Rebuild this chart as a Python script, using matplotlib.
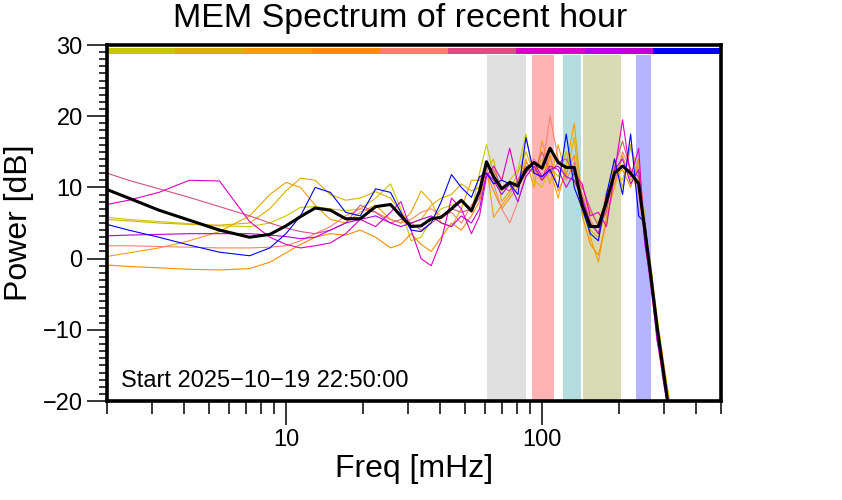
import matplotlib.pyplot as plt
from matplotlib.ticker import FixedLocator, NullFormatter, FixedFormatter

plt.rcParams['font.family'] = ['Liberation Sans', 'DejaVu Sans']

# frequency grid [mHz]
freq = [2.0, 2.43, 3.19, 4.19, 5.50, 7.21, 8.65, 10.0, 11.4, 13.0, 14.9, 17.1,
        19.5, 22.4, 25.6, 28.1, 30.8, 33.7, 36.9, 40.4, 44.3, 48.4, 53.0,
        57.0, 60.7, 64.7, 69.6, 74.8, 80.5, 86.5, 93.0, 100, 107.5, 115.6,
        124.3, 133.6, 143.6, 154.4, 166.0, 178.5, 191.9, 206.3, 221.8, 238.5,
        252.1, 266.2, 281.2, 296.9, 313.5, 325]

# power [dB] of each 10-min segment
p_yellowgreen = [5.8, 5.5, 5.2, 4.9, 4.6, 4.5, 5.0, 6.0, 7.2, 7.3, 7.0, 6.7, 7.0, 8.5, 10.5, 7.0, 2.5, 3.0, 5.5, 7.0, 7.5, 8.0, 6.5,
                 12.0, 16.0, 12.0, 9.5, 11.0, 12.5, 17.5, 11.0, 10.0, 13.0, 11.5, 15.0, 10.5, 9.0, 6.5, 5.0, 8.5, 12.5, 11.0, 15.5, 11.0, 5.0, -1.5, -8.0, -14.5, -19.5, -23]
p_goldenrod = [5.5, 5.3, 5.0, 4.8, 4.7, 5.0, 7.0, 9.5, 11.3, 11.0, 9.0, 8.2, 8.5, 9.4, 8.5, 6.5, 5.0, 5.5, 7.5, 8.5, 9.0, 10.5, 9.5,
               10.0, 12.5, 14.0, 8.0, 9.5, 12.0, 15.0, 12.0, 14.0, 10.5, 16.0, 11.5, 17.0, 6.5, 4.0, 3.0, 7.0, 14.0, 10.0, 16.0, 12.0, 4.5, -1.0, -9.0, -15.0, -20.5, -24]
p_orange = [0.3, 0.8, 1.5, 2.5, 3.8, 6.0, 9.0, 10.7, 10.0, 7.5, 5.5, 5.0, 6.5, 7.5, 5.5, 5.0, 6.5, 9.5, 8.0, 5.0, 4.5, 7.0, 11.0,
            11.0, 13.0, 5.8, 7.5, 9.0, 11.0, 14.0, 10.0, 16.5, 12.5, 8.5, 13.0, 19.0, 8.0, 3.0, -0.5, 6.0, 10.0, 14.5, 11.0, 13.0, 5.5, -2.0, -8.5, -14.0, -20.0, -23]
p_darkorange = [-0.9, -1.1, -1.3, -1.5, -1.6, -1.4, -0.5, 0.8, 2.0, 3.0, 3.5, 3.3, 4.0, 3.0, 1.5, 2.0, 3.5, 2.0, 1.0, 3.0, 5.0, 4.0, 6.0,
                8.0, 12.0, 9.5, 7.0, 8.5, 10.0, 13.5, 12.5, 11.0, 14.5, 9.5, 12.0, 14.5, 6.0, 2.0, 0.5, 5.0, 11.5, 12.5, 10.0, 14.0, 3.5, -3.0, -10.0, -16.0, -22.0, -24]
p_salmon = [1.8, 1.8, 1.7, 1.6, 1.5, 1.5, 1.6, 1.8, 2.5, 3.5, 4.5, 6.0, 7.0, 6.5, 5.5, 5.0, 5.5, 6.5, 7.0, 6.0, 6.5, 5.0, 7.5,
            9.0, 12.5, 10.5, 7.0, 5.0, 8.0, 12.0, 14.0, 12.5, 20.0, 14.0, 11.0, 13.5, 9.0, 5.5, 3.5, 9.5, 10.5, 15.0, 12.5, 9.0, 3.0, -3.5, -9.0, -15.5, -21.0, -24]
p_palevioletred = [12.0, 11.0, 9.8, 8.6, 7.3, 6.0, 5.0, 4.3, 3.8, 3.5, 4.0, 5.0, 7.5, 6.5, 5.0, 5.5, 5.0, 4.0, 5.0, 6.0, 7.0, 6.5, 7.0,
                   8.5, 13.0, 12.5, 10.0, 9.5, 11.0, 13.0, 12.0, 15.0, 12.0, 13.5, 14.0, 12.0, 10.0, 7.0, 4.5, 6.5, 13.0, 16.5, 12.5, 11.5, 4.0, -2.0, -10.0, -16.5, -21.5, -24]
p_magenta = [7.6, 8.2, 9.3, 11.0, 10.9, 5.2, 3.0, 2.0, 1.5, 1.8, 2.2, 3.5, 5.5, 4.5, 6.5, 8.0, 4.0, 0.0, -1.0, 2.5, 8.5, 7.0, 3.5,
             6.0, 11.5, 13.0, 11.0, 15.5, 10.5, 12.0, 13.5, 11.5, 13.0, 12.5, 10.0, 12.0, 10.5, 6.0, 6.5, 4.5, 12.0, 19.5, 11.5, 15.5, 2.5, -4.0, -11.0, -17.0, -22.0, -24]
p_purple = [3.2, 3.3, 3.4, 3.5, 3.5, 3.5, 3.3, 3.1, 2.8, 3.0, 4.0, 5.0, 5.5, 6.0, 5.0, 4.5, 5.0, 5.5, 6.0, 5.0, 4.5, 6.0, 5.0,
            7.0, 12.0, 11.0, 9.0, 10.5, 8.0, 11.5, 13.0, 11.0, 12.5, 13.0, 11.5, 11.0, 8.5, 5.0, 3.5, 7.5, 12.5, 14.0, 10.5, 12.5, 2.0, -3.0, -11.5, -16.0, -21.5, -24]
p_blue = [4.8, 4.0, 3.0, 1.9, 0.9, 0.4, 1.5, 3.5, 6.0, 10.0, 9.3, 6.5, 6.0, 9.8, 9.3, 6.5, 4.0, 3.8, 5.0, 8.0, 11.8, 10.0, 8.6,
          11.5, 12.0, 10.5, 11.0, 10.5, 9.0, 17.0, 12.0, 11.5, 12.5, 10.0, 17.5, 10.0, 7.0, 3.5, 2.5, 9.0, 14.0, 9.0, 17.5, 6.0, 5.0, -2.5, -9.0, -15.0, -21.0, -24]
p_mean = [9.7, 8.5, 6.8, 5.4, 4.0, 3.0, 3.4, 4.6, 5.9, 7.1, 6.8, 5.6, 5.6, 7.3, 7.6, 6.0, 4.5, 4.6, 5.6, 5.8, 7.0, 8.2, 6.7,
          9.5, 13.6, 11.5, 9.8, 10.7, 10.2, 12.5, 13.5, 12.7, 15.5, 13.5, 12.8, 12.8, 7.5, 4.5, 4.5, 8.0, 12.0, 13.0, 12.0, 10.5, 4.0, -2.5, -9.5, -15.5, -21.5, -24]

series = [p_yellowgreen, p_goldenrod, p_orange, p_darkorange, p_salmon,
          p_palevioletred, p_magenta, p_purple, p_blue]
colors = ['#c8c800', '#d8b000', '#f0a000', '#ff8c00', '#ff8070',
          '#d85080', '#e000c0', '#b800e0', '#0000ff']

# colour bar along the top (one piece per segment)
bar_edges = [2, 3.7, 6.8, 12.6, 23.3, 43, 79.4, 146.6, 270.8, 500]

# shaded frequency bands [mHz]
bands = [(60.7, 86.5), (91.4, 111), (121, 142), (144, 203), (232, 266)]
band_colors = ['#e0e0e0', '#ffb4b4', '#b4dcde', '#d8dab4', '#b4b4ff']

fig = plt.figure(figsize=(8.42, 5.0), dpi=100)
ax = fig.add_axes([107 / 842, 99 / 500, 614 / 842, 356 / 500])

for (lo, hi), c in zip(bands, band_colors):
    ax.fill_between([lo, hi], -20, 28.6, color=c, lw=0, zorder=1)

for i, c in enumerate(colors):
    ax.fill_between([bar_edges[i], bar_edges[i + 1]], 28.8, 29.6, color=c, lw=0, zorder=2)

for s, c in zip(series, colors):
    ax.plot(freq, s, color=c, lw=0.8, zorder=3)
ax.plot(freq, p_mean, color='black', lw=2.2, zorder=4)

ax.set_xscale('log')
ax.set_xlim(2, 500)
ax.set_ylim(-20, 30)

ax.xaxis.set_major_locator(FixedLocator([10, 100]))
ax.xaxis.set_major_formatter(FixedFormatter(['10', '100']))
ax.xaxis.set_minor_locator(FixedLocator([2, 3, 4, 5, 6, 7, 8, 9, 20, 30, 40, 50, 60, 70, 80, 90,
                                         200, 300, 400, 500]))
ax.xaxis.set_minor_formatter(NullFormatter())
ax.yaxis.set_major_locator(FixedLocator([-20, -10, 0, 10, 20, 30]))
ax.yaxis.set_minor_locator(FixedLocator(list(range(-20, 31))))

ax.tick_params(axis='x', which='major', length=17, width=1.1, labelsize=17, pad=3)
ax.tick_params(axis='x', which='minor', length=9, width=1.1)
ax.tick_params(axis='y', which='major', length=14.5, width=1.1, labelsize=17, pad=3)
ax.tick_params(axis='y', which='minor', length=5.5, width=1.1)

for sp in ax.spines.values():
    sp.set_linewidth(2.6)
    sp.set_zorder(5)

ax.set_xlabel('Freq [mHz]', fontsize=23, labelpad=2)
ax.set_ylabel('Power [dB]', fontsize=23, labelpad=6)
ax.text(2.26, -17.2, 'Start 2025\u221210\u221219 22:50:00', fontsize=17, va='center', ha='left', zorder=6)
fig.text(400 / 842, 0.962, 'MEM Spectrum of recent hour', fontsize=24.5, ha='center', va='center')

fig.savefig('out.png', dpi=100)
